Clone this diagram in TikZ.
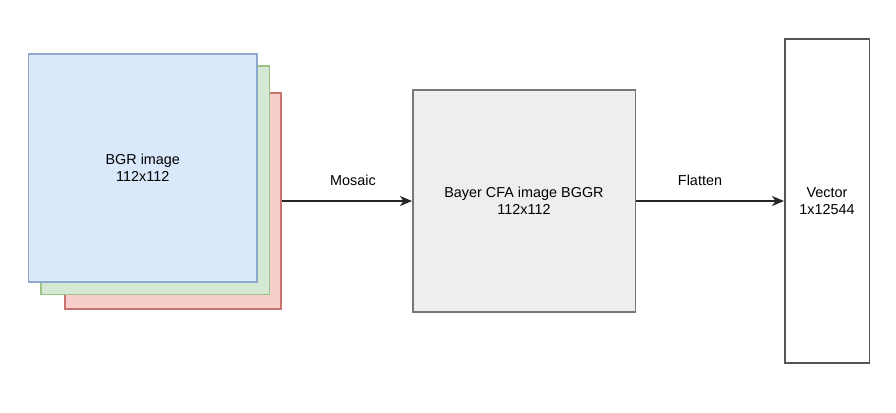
\documentclass[tikz,border=0pt]{standalone}
\usepackage{fontspec}
\setmainfont{Liberation Sans}
\usetikzlibrary{arrows.meta}
\definecolor{bluefill}{HTML}{DAE8FC}
\definecolor{bluedraw}{HTML}{8EA9CF}
\definecolor{greenfill}{HTML}{D5E8D4}
\definecolor{greendraw}{HTML}{9AC386}
\definecolor{redfill}{HTML}{F8CECC}
\definecolor{reddraw}{HTML}{C8736F}
\definecolor{grayfill}{HTML}{EEEEEE}
\definecolor{graydraw}{HTML}{777777}
\definecolor{vecdraw}{HTML}{555555}
\tikzset{
  box/.style={rectangle, inner sep=0pt, line width=1.5pt, align=center,
    font=\fontsize{14.4}{17.5}\selectfont},
  lbl/.style={inner sep=0pt, font=\fontsize{14.4}{17.5}\selectfont},
  arr/.style={line width=1.4pt, draw=black!85, -{Stealth[length=12pt,width=10pt,inset=3.5pt]}}
}
\begin{document}
\begin{tikzpicture}[x=1pt,y=-1pt]
\useasboundingbox (0,0) rectangle (896,412);
\node[box, draw=reddraw, fill=redfill, minimum width=216, minimum height=216] (red) at (173.2,201) {};
\node[box, draw=greendraw, fill=greenfill, minimum width=228.5, minimum height=228.5] (green) at (155,180) {};
\node[box, draw=bluedraw, fill=bluefill, minimum width=228.5, minimum height=228] (blue) at (142.8,168) {BGR image\\112x112};
\node[box, draw=graydraw, fill=grayfill, minimum width=222.5, minimum height=222] (gray) at (524,201) {Bayer CFA image BGGR\\112x112};
\node[box, draw=vecdraw, fill=white, minimum width=84.5, minimum height=323.5] (vec) at (827,201) {Vector\\1x12544};
\draw[arr] (red.east) -- (gray.west);
\draw[arr] (gray.east) -- (vec.west);
\node[lbl] (mosaic) at (353,180) {Mosaic};
\node[lbl] (flatten) at (700,180) {Flatten};
\end{tikzpicture}
\end{document}
